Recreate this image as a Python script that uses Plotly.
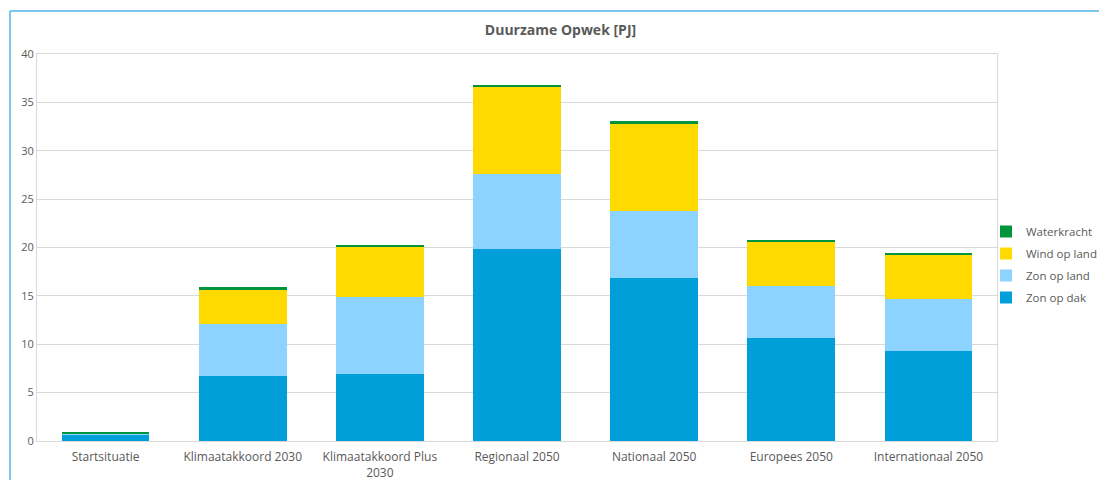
import plotly.graph_objects as go

categories = ["Startsituatie", "Klimaatakkoord 2030", "Klimaatakkoord Plus<br>2030",
              "Regionaal 2050", "Nationaal 2050", "Europees 2050", "Internationaal 2050"]
zon_op_dak = [0.65, 6.7, 6.9, 19.8, 16.85, 10.65, 9.35]
zon_op_land = [0.05, 5.4, 8.0, 7.8, 6.95, 5.35, 5.35]
wind_op_land = [0.0, 3.6, 5.2, 9.0, 9.0, 4.6, 4.6]
waterkracht = [0.25, 0.2, 0.15, 0.2, 0.25, 0.2, 0.15]

series = [
    ("Zon op dak", zon_op_dak, "#009FDA"),
    ("Zon op land", zon_op_land, "#8DD3FF"),
    ("Wind op land", wind_op_land, "#FFDA00"),
    ("Waterkracht", waterkracht, "#00943C"),
]

fig = go.Figure()
n = len(series)
for i, (name, vals, col) in enumerate(series):
    fig.add_trace(go.Bar(x=categories, y=vals, name=name, marker_color=col,
                         marker_line_width=0, width=0.64, legendgroup=name,
                         legendrank=(n - i) * 100))

font = "'Open Sans', sans-serif"
fig.update_layout(
    barmode="stack",
    width=1099, height=480,
    margin=dict(l=37, r=102, t=54, b=39, autoexpand=False),
    paper_bgcolor="white", plot_bgcolor="white",
    font=dict(family=font, color="#595959", size=12),
    title=dict(text="<b>Duurzame Opwek [PJ]</b>", x=0.51, xanchor="center",
               y=1 - 30 / 480, yanchor="middle", font=dict(size=14, color="#595959")),
    legend=dict(traceorder="grouped", xref="container", yref="container",
                x=986 / 1099, xanchor="left", y=1 - 264.5 / 480,
                yanchor="middle", font=dict(size=11.5, color="#595959"),
                itemwidth=30, tracegroupgap=3, bgcolor="rgba(0,0,0,0)"),
    showlegend=True,
    bargap=0.36,
)
fig.update_yaxes(range=[0, 40], dtick=5, showgrid=True, gridcolor="#D9D9D9",
                 showline=True, linecolor="#D9D9D9", mirror=True, ticks="",
                 tickfont=dict(size=11, color="#595959"), zeroline=False,
                 automargin=False)
fig.update_xaxes(showline=True, linecolor="#D9D9D9", mirror=True, ticks="",
                 tickfont=dict(size=12, color="#595959"), automargin=False,
                 ticklabelstandoff=5)

# outer chart-frame border (light blue)
x0 = (10 - 37) / 960
ytop = (441 - 11) / 387
ybot = (441 - 480) / 387
xr = (1099 - 37) / 960
fig.add_shape(type="line", xref="paper", yref="paper", x0=x0, x1=x0, y0=ybot, y1=ytop,
              line=dict(color="#4FB8E8", width=1.5))
fig.add_shape(type="line", xref="paper", yref="paper", x0=x0, x1=xr, y0=ytop, y1=ytop,
              line=dict(color="#4FB8E8", width=1.5))

fig.write_html("out.html")
